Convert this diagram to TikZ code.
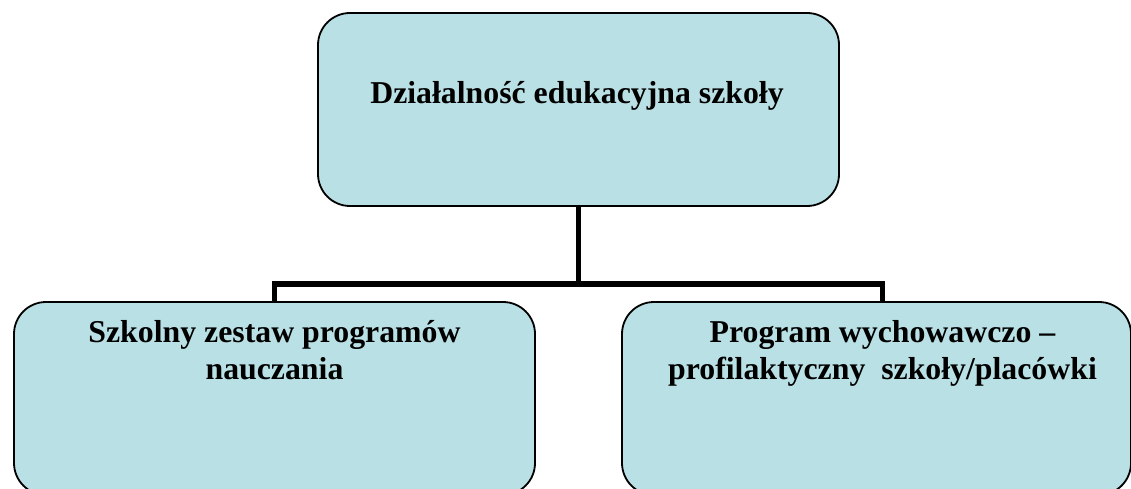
\documentclass[tikz,border=0pt]{standalone}
\usepackage{fontspec}
\setmainfont{Liberation Serif}
\definecolor{boxfill}{RGB}{185,224,228}
\begin{document}
\begin{tikzpicture}[x=1pt,y=-1pt,
  boxstyle/.style={draw=black, line width=1.8pt, fill=boxfill, rounded corners=32pt, inner sep=0pt, outer sep=0pt},
  lbl/.style={font=\fontsize{31.8}{37.5}\selectfont\bfseries, align=center, inner sep=0pt, anchor=base},
  conn/.style={line width=5.5pt, draw=black}]
\useasboundingbox (0,0) rectangle (1131,489);
\clip (0,0) rectangle (1131,489);
\node[boxstyle, minimum width=521pt, minimum height=193pt] (top) at (578.5,109.5) {};
\node[boxstyle, minimum width=521pt, minimum height=193pt] (lbox) at (274.5,398.5) {};
\node[boxstyle, minimum width=509pt, minimum height=193pt] (rbox) at (876.5,398.5) {};
\coordinate (rdrop) at (882.5,302);
\draw[conn] (top.south) -- ++(0,78) -| (lbox.north);
\draw[conn] (top.south) -- ++(0,78) -| (rdrop);
\node[lbl] (toptext) at (577,103.5) {Działalność edukacyjna szkoły};
\node[lbl] (ltext) at (274.5,379.5) {Szkolny zestaw programów\\nauczania};
\node[lbl] (rtext) at (882.5,379.5) {Program wychowawczo –\\profilaktyczny\ \ szkoły/placówki};
\end{tikzpicture}
\end{document}
